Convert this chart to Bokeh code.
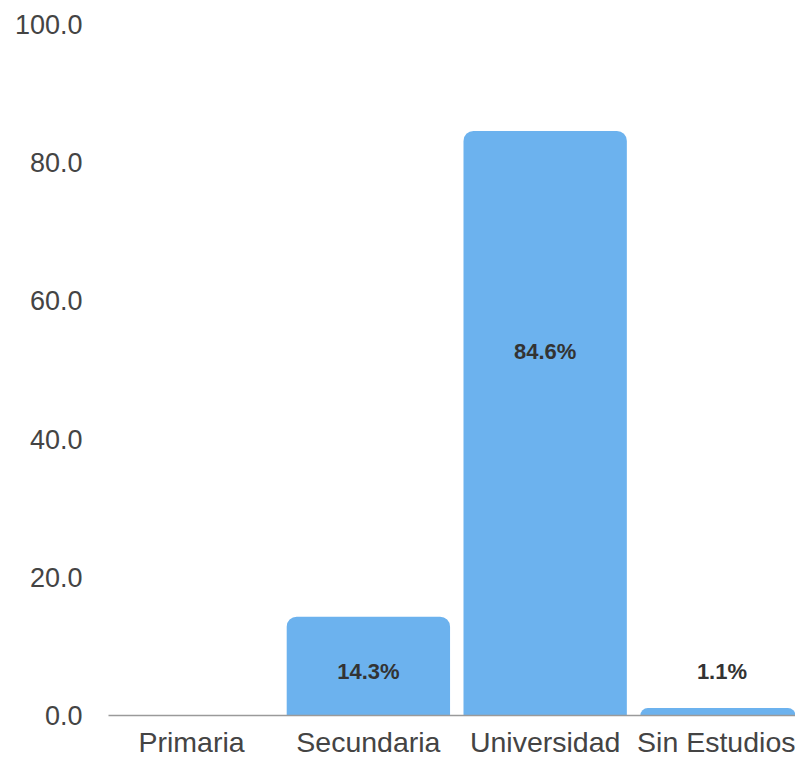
from bokeh.plotting import figure
from bokeh.models import ColumnDataSource, FixedTicker, Range1d, PrintfTickFormatter
from bokeh.core.properties import value
from bokeh.embed import file_html
from bokeh.resources import INLINE

categories = ["Primaria", "Secundaria", "Universidad", "Sin Estudios"]
values = [0.0, 14.3, 84.6, 1.1]
labels = ["", "14.3%", "84.6%", "1.1%"]
label_y = [0.0, 6.3, 52.7, 6.3]
y_ticks = [0, 20, 40, 60, 80, 100]

xs = list(range(len(categories)))
src = ColumnDataSource(dict(x=xs, top=values, label=labels, ly=label_y))

p = figure(width=795, height=760, output_backend="svg", toolbar_location=None,
           x_range=Range1d(-0.47, 3.416), y_range=Range1d(0, 100),
           min_border_left=108, min_border_right=0, min_border_top=24, min_border_bottom=43)
p.outline_line_color = None
p.grid.grid_line_color = None
p.background_fill_color = "white"

p.vbar(x="x", top="top", bottom=0, width=0.924, source=src,
       fill_color="#6cb2ee", line_color=None, border_radius=(10, 10, 0, 0))

p.text(x="x", y="ly", text="label", source=src, text_align="center", text_baseline="middle",
       text_font=value("Liberation Sans"), text_font_style="bold", text_font_size="22px",
       text_color="#333333")

# x axis
p.xaxis.ticker = FixedTicker(ticks=xs)
p.xaxis.major_label_overrides = {i: c for i, c in enumerate(categories)}
p.xaxis.axis_line_color = "#9a9a9a"
p.xaxis.axis_line_width = 1.5
p.xaxis.major_tick_line_color = None
p.xaxis.minor_tick_line_color = None
p.xaxis.major_label_text_font = "Liberation Sans"
p.xaxis.major_label_text_font_size = "28.5px"
p.xaxis.major_label_text_color = "#444444"
p.xaxis.major_label_standoff = 4

# y axis
p.yaxis.ticker = FixedTicker(ticks=y_ticks)
p.yaxis.formatter = PrintfTickFormatter(format="%.1f")
p.yaxis.axis_line_color = None
p.yaxis.major_tick_line_color = None
p.yaxis.minor_tick_line_color = None
p.yaxis.major_label_text_font = "Liberation Sans"
p.yaxis.major_label_text_font_size = "27px"
p.yaxis.major_label_text_color = "#444444"
p.yaxis.major_label_standoff = 20

open("out.html", "w").write(file_html(p, INLINE))
